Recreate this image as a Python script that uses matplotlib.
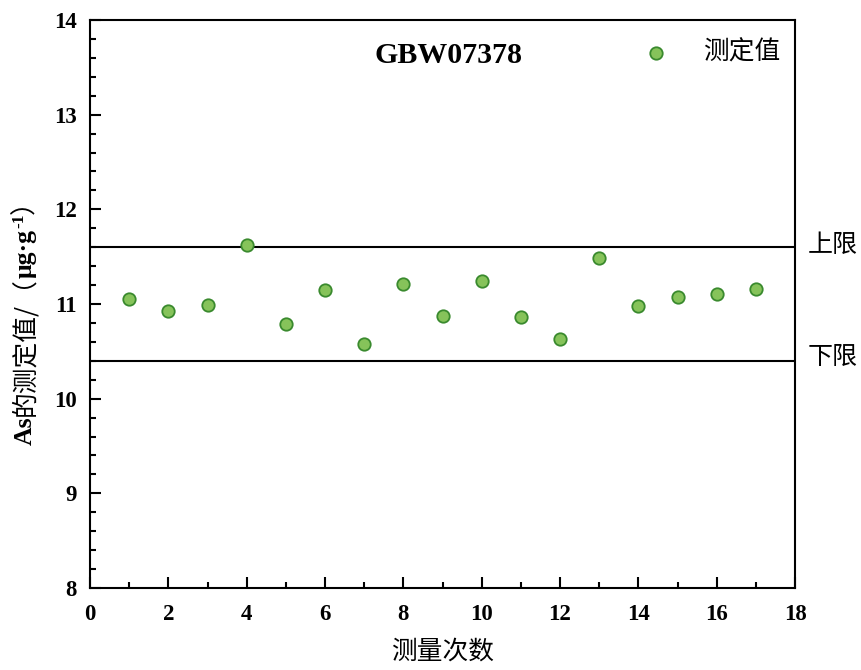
import matplotlib
matplotlib.use("Agg")
import matplotlib.pyplot as plt
from matplotlib.ticker import MultipleLocator
from matplotlib.transforms import blended_transform_factory

# ---- data ----
runs = list(range(1, 18))
values = [11.05, 10.93, 10.99, 11.62, 10.79, 11.15, 10.58, 11.21, 10.87,
          11.24, 10.86, 10.63, 11.49, 10.98, 11.07, 11.11, 11.16]
upper_limit = 11.6
lower_limit = 10.4
title_text = "GBW07378"
legend_label = "测定值"
upper_label = "上限"
lower_label = "下限"
xlabel = "测量次数"

SERIF = ['Liberation Serif', 'DejaVu Serif']
CJK = ['Noto Sans CJK SC', 'DejaVu Sans']

W, H = 861, 670
fig = plt.figure(figsize=(W / 100, H / 100), dpi=100)
ax = fig.add_axes([90 / W, 82 / H, 705 / W, 568 / H])

ax.scatter(runs, values, s=80, facecolor='#86c35a', edgecolor='#3a8a2e',
           linewidths=1.3, zorder=3, label=legend_label)
ax.axhline(upper_limit, color='black', lw=1.5, zorder=2)
ax.axhline(lower_limit, color='black', lw=1.5, zorder=2)

ax.set_xlim(0, 18)
ax.set_ylim(8, 14)
ax.xaxis.set_major_locator(MultipleLocator(2))
ax.xaxis.set_minor_locator(MultipleLocator(1))
ax.yaxis.set_major_locator(MultipleLocator(1))
ax.yaxis.set_minor_locator(MultipleLocator(0.2))
for sp in ax.spines.values():
    sp.set_linewidth(1.5)
ax.tick_params(which='both', direction='in', top=False, right=False, width=1.5)
ax.tick_params(which='major', length=8)
ax.tick_params(which='minor', length=4.5)
ax.tick_params(axis='x', which='major', pad=11.5)
ax.tick_params(axis='y', which='major', pad=9.5)
for lab in ax.get_xticklabels() + ax.get_yticklabels():
    lab.set_fontfamily(SERIF)
    lab.set_fontweight('bold')
    lab.set_fontsize(16.5)

ax.set_xlabel(xlabel, fontfamily=CJK, fontsize=18.5, labelpad=10)

ax.text(0.508, 0.938, title_text, transform=ax.transAxes, ha='center', va='center',
        fontfamily=SERIF, fontweight='bold', fontsize=21.5)

leg = ax.legend(loc='center left', bbox_to_anchor=(0.767, 0.942), frameon=False,
                borderaxespad=0, borderpad=0, handletextpad=0.83,
                prop={'family': CJK, 'size': 18.5})

tr = blended_transform_factory(ax.transAxes, ax.transData)
ax.text(1.018, upper_limit + 0.02, upper_label, transform=tr, ha='left', va='center',
        fontfamily=CJK, fontsize=18)
ax.text(1.018, lower_limit + 0.04, lower_label, transform=tr, ha='left', va='center',
        fontfamily=CJK, fontsize=18)

# ---- y label built from pieces (mixed fonts) ----
fig.canvas.draw()
renderer = fig.canvas.get_renderer()
pieces = [
    ("As", dict(fontfamily=SERIF, fontweight='bold', fontsize=18.5), 0),
    ("的测定值/（", dict(fontfamily=CJK, fontsize=18.5), 0),
    ("μg·g", dict(fontfamily=SERIF, fontweight='bold', fontsize=18.5), 0),
    ("-1", dict(fontfamily=SERIF, fontweight='bold', fontsize=12.5), 9),
    ("）", dict(fontfamily=CJK, fontsize=18.5), 0),
]
x0 = 32
y = 225
for s, props, dx in pieces:
    t = fig.text((x0 - dx) / W, y / H, s, rotation=90, rotation_mode='anchor',
                 ha='left', va='baseline', **props)
    bb = t.get_window_extent(renderer)
    y += bb.height

fig.savefig("out.png", dpi=100)
